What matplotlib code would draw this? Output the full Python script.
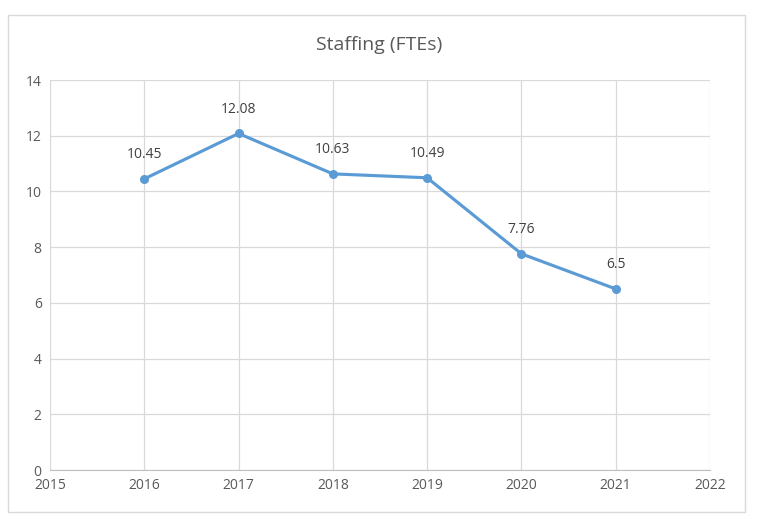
import matplotlib.pyplot as plt
from matplotlib.patches import Rectangle

years = [2016, 2017, 2018, 2019, 2020, 2021]
ftes = [10.45, 12.08, 10.63, 10.49, 7.76, 6.5]
point_labels = ["10.45", "12.08", "10.63", "10.49", "7.76", "6.5"]
x_ticks = [2015, 2016, 2017, 2018, 2019, 2020, 2021, 2022]
y_ticks = [0, 2, 4, 6, 8, 10, 12, 14]

plt.rcParams['font.family'] = ['Open Sans', 'DejaVu Sans']

fig = plt.figure(figsize=(7.58, 5.21), dpi=100)
fig.patches.append(Rectangle((8/758, 9/521), 737/758, 497/521, transform=fig.transFigure,
                             fill=False, edgecolor="#d9d9d9", linewidth=1))
ax = fig.add_axes([50/758, 51/521, 660/758, 390/521])

ax.plot(years, ftes, color="#5b9bd5", linewidth=2.25, marker="o", markersize=5.5, zorder=3)
for x, y, lab in zip(years, ftes, point_labels):
    ax.annotate(lab, (x, y), xytext=(0, 12), textcoords="offset points",
                ha="center", va="bottom", fontsize=10, color="#404040")

ax.set_xlim(2015, 2022)
ax.set_ylim(0, 14)
ax.set_xticks(x_ticks)
ax.set_yticks(y_ticks)
ax.grid(True, color="#d9d9d9", linewidth=0.9)
ax.set_axisbelow(True)
for side in ["top", "right", "left"]:
    ax.spines[side].set_visible(False)
ax.spines["bottom"].set_color("#bfbfbf")
ax.tick_params(length=0, labelsize=10, labelcolor="#595959", pad=6)

fig.text(0.5, 1 - 45/521, "Staffing (FTEs)", ha="center", va="center",
         fontsize=14, color="#595959")

plt.savefig("out.png", dpi=100)
